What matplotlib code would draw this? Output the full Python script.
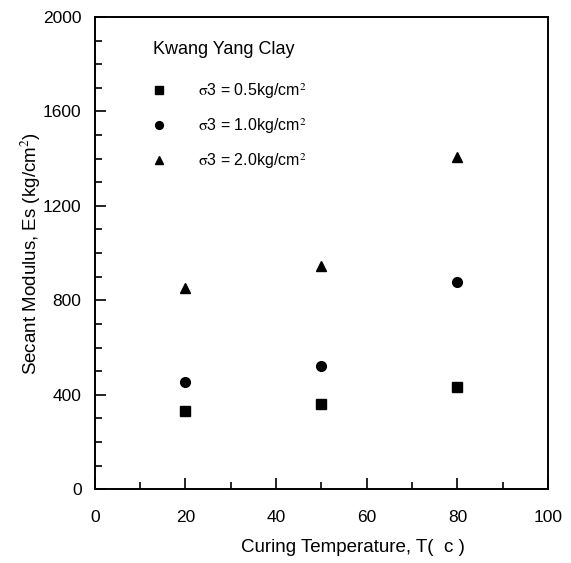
import matplotlib
matplotlib.use("Agg")
import matplotlib.pyplot as plt
from matplotlib.ticker import MultipleLocator

plt.rcParams["font.family"] = ["Liberation Sans", "DejaVu Sans"]
plt.rcParams["mathtext.fontset"] = "stix"

# curing temperature (C)
temps = [20, 50, 80]
# secant modulus Es (kg/cm^2) per confining pressure
es_05 = [331, 360, 433]
es_10 = [454, 522, 878]
es_20 = [852, 946, 1408]

series = [
    (es_05, "s", r"$\mathrm{\sigma}$3 = 0.5kg/cm$^{2}$"),
    (es_10, "o", r"$\mathrm{\sigma}$3 = 1.0kg/cm$^{2}$"),
    (es_20, "^", r"$\mathrm{\sigma}$3 = 2.0kg/cm$^{2}$"),
]

fig = plt.figure(figsize=(5.71, 5.63), dpi=100)
ax = fig.add_axes([0.166, 0.131, 0.794, 0.839])

for vals, mk, lab in series:
    ax.plot(temps, vals, linestyle="none", marker=mk, color="black",
            markersize=7, label=lab)

ax.set_xlim(0, 100)
ax.set_ylim(0, 2000)
ax.xaxis.set_major_locator(MultipleLocator(20))
ax.xaxis.set_minor_locator(MultipleLocator(10))
ax.yaxis.set_major_locator(MultipleLocator(400))
ax.yaxis.set_minor_locator(MultipleLocator(100))
ax.tick_params(which="both", direction="in", top=False, right=False,
               labelsize=12.5, width=1.2)
ax.tick_params(which="major", length=8)
ax.tick_params(which="minor", length=5)
ax.tick_params(axis="x", which="major", pad=15)
ax.tick_params(axis="y", which="major", pad=9.5)
for sp in ax.spines.values():
    sp.set_linewidth(1.4)

ax.set_xlabel("Curing Temperature, T(  c )", fontsize=13.5, labelpad=5)
ax.xaxis.set_label_coords(0.57, -0.105)
ax.set_ylabel("Secant Modulus, Es (kg/cm$^{2}$)", fontsize=13.5, labelpad=0)

ax.text(0.128, 0.932, "Kwang Yang Clay", transform=ax.transAxes,
        fontsize=13, va="center", ha="left")
leg = ax.legend(loc="upper left", bbox_to_anchor=(0.111, 0.877), frameon=False,
                fontsize=11.5, handlelength=1.0, handletextpad=1.9,
                labelspacing=0.95, borderaxespad=0, markerscale=0.8)

fig.savefig("out.png", dpi=100)
